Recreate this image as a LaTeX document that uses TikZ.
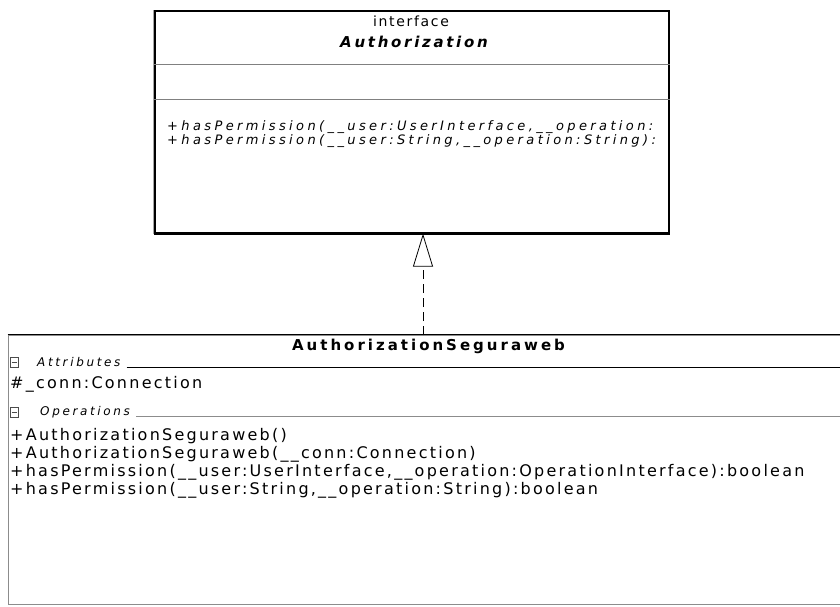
\documentclass[tikz,border=0pt]{standalone}
\usepackage{fontspec}
\setmainfont{DejaVu Sans}
\usetikzlibrary{arrows.meta}

\tikzset{
  classbox/.style={draw=black, line width=1.2pt, fill=white, inner sep=0pt, rectangle},
  implbox/.style={draw=black!45, line width=1pt, fill=white, inner sep=0pt, rectangle},
  sepline/.style={draw=black!50, line width=1.2pt},
  headline/.style={draw=black, line width=1.1pt},
  stereo/.style={font=\fontsize{14}{14}\selectfont\addfontfeature{LetterSpace=12}, inner sep=0pt},
  ifname/.style={font=\fontsize{15}{15}\selectfont\bfseries\itshape\addfontfeature{LetterSpace=18}, inner sep=0pt},
  ifop/.style={font=\fontsize{13}{13}\selectfont\itshape\addfontfeature{LetterSpace=26}, anchor=west, inner sep=0pt},
  clname/.style={font=\fontsize{15}{15}\selectfont\bfseries\addfontfeature{LetterSpace=20}, inner sep=0pt},
  member/.style={font=\fontsize{16}{16}\selectfont\addfontfeature{LetterSpace=14}, anchor=west, inner sep=0pt},
  section/.style={font=\fontsize{12}{12}\selectfont\itshape\addfontfeature{LetterSpace=22}, anchor=west, inner sep=0pt},
  toggle/.style={draw=black!70, line width=0.6pt, fill=white, minimum width=8pt, minimum height=10pt, inner sep=0pt, rectangle},
  realize/.style={draw=black, line width=0.8pt, dash pattern=on 9pt off 5pt,
    -{Triangle[open, length=33pt, width=20pt, line width=0.8pt]}}
}

\begin{document}
\begin{tikzpicture}[x=1pt, y=-1pt]
\path[use as bounding box, clip] (0,0) rectangle (840,606);
\fill[white] (0,0) rectangle (840,606);

% ---- interface Authorization ----
\node[classbox, minimum width=514pt, minimum height=222pt] (iface) at (412,122) {};
\draw[line width=2.2pt] (iface.south west) -- (iface.south east);
\draw[black!35, line width=0.8pt] ([xshift=-1.5pt]iface.north west) -- ([xshift=-1.5pt]iface.south west);
\draw[sepline] ([yshift=-54pt]iface.north west) -- ([yshift=-54pt]iface.north east);
\draw[sepline] ([yshift=-89pt]iface.north west) -- ([yshift=-89pt]iface.north east);
\node[stereo] (ifstereo) at (411,21) {interface};
\node[ifname] (ifname) at (414,42) {Authorization};
% operation rows run on past the right border and are cut by it
\node[ifop] (ifop1) at (167,127) {+hasPermission(\_\_user:UserInterface,\_\_operation:};
\node[ifop] (ifop2) at (167,141) {+hasPermission(\_\_user:String,\_\_operation:String):};

% ---- class AuthorizationSeguraweb ----
\node[implbox, minimum width=841pt, minimum height=269pt] (impl) at (428.5,469.5) {};
\draw[headline] (impl.north west) -- (impl.north east);
\node[clname] (clname) at (428.5,346) {AuthorizationSeguraweb};

% attributes compartment
\node[toggle] (tgA) at (14,362) {};
\draw[black!70, line width=0.6pt] ([xshift=-2.5pt]tgA.center) -- ([xshift=2.5pt]tgA.center);
\node[section] (secA) at (37,362) {Attributes};
\draw[headline] ([xshift=6pt]secA.east |- 0,367.5) -- (impl.east |- 0,367.5);
\node[member] (attr1) at (10,384) {\#\_conn:Connection};

% operations compartment
\node[toggle] (tgO) at (14,412) {};
\draw[black!70, line width=0.6pt] ([xshift=-2.5pt]tgO.center) -- ([xshift=2.5pt]tgO.center);
\node[section] (secO) at (40,412) {Operations};
\draw[black!45, line width=1pt] ([xshift=6pt]secO.east |- 0,416) -- (impl.east |- 0,416);
\node[member] (op1) at (10,436) {+AuthorizationSeguraweb()};
\node[member] (op2) at (10,454) {+AuthorizationSeguraweb(\_\_conn:Connection)};
\node[member] (op3) at (10,472) {+hasPermission(\_\_user:UserInterface,\_\_operation:OperationInterface):boolean};
\node[member] (op4) at (10,490) {+hasPermission(\_\_user:String,\_\_operation:String):boolean};

% realization: AuthorizationSeguraweb implements Authorization
\coordinate (rfoot) at (423,335);
\draw[realize] (rfoot) -- (rfoot |- iface.south);
\end{tikzpicture}
\end{document}
